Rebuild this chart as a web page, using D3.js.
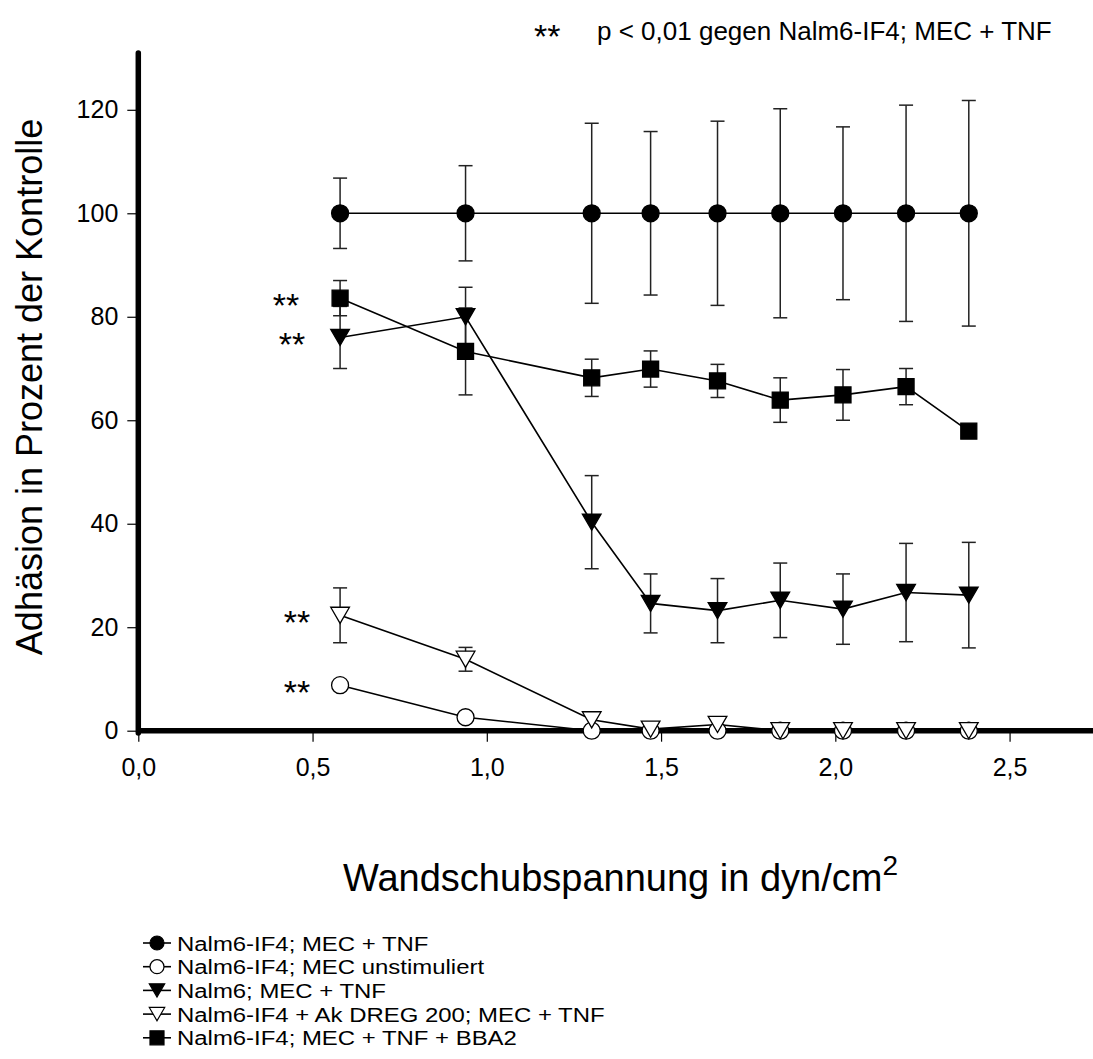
<!DOCTYPE html>
<html>
<head>
<meta charset="utf-8">
<script src="https://cdn.jsdelivr.net/npm/d3@7"></script>
<style>
  body { margin: 0; background: #fff; }
  text { font-family: "Liberation Sans", Arial, sans-serif; fill: #000; }
</style>
</head>
<body>
<script>
// shear stress (dyn/cm2)
var xValues = [0.579, 0.939, 1.301, 1.470, 1.662, 1.842, 2.022, 2.203, 2.383];

var seriesNames = [
  "Nalm6-IF4; MEC + TNF",
  "Nalm6-IF4; MEC unstimuliert",
  "Nalm6; MEC + TNF",
  "Nalm6-IF4 + Ak DREG 200; MEC + TNF",
  "Nalm6-IF4; MEC + TNF + BBA2"
];

var ifTnf      = [100, 100, 100, 100, 100, 100, 100, 100, 100];
var ifTnfErr   = [6.8, 9.2, 17.4, 15.8, 17.8, 20.2, 16.7, 20.9, 21.8];
var ifUnstim   = [8.8, 2.6, 0, 0, 0, 0, 0, 0, 0];
var nalmTnf    = [76.0, 80.0, 40.3, 24.6, 23.2, 25.2, 23.5, 26.7, 26.2];
var nalmTnfErr = [6.0, 5.7, 9.0, 5.7, 6.2, 7.2, 6.8, 9.5, 10.2];
var dreg       = [22.3, 13.8, 2.1, 0.3, 1.2, 0, 0, 0, 0];
var dregErr    = [5.3, 2.3, 0, 0, 0, 0, 0, 0, 0];
var bba2       = [83.6, 73.3, 68.2, 69.9, 67.6, 63.9, 64.9, 66.5, 57.9];
var bba2Err    = [3.4, 8.4, 3.6, 3.5, 3.2, 4.3, 4.9, 3.5, 0];

var yTicks = [0, 20, 40, 60, 80, 100, 120];
var xTicks = [0, 0.5, 1.0, 1.5, 2.0, 2.5];

// first point of each starred series
var stars = [
  {series: 4, dx: -54},
  {series: 2, dx: -48},
  {series: 3, dx: -43},
  {series: 1, dx: -43}
];

var svg = d3.select("body").append("svg")
    .attr("width", 1093)
    .attr("height", 1059);

var xScale = d3.scaleLinear().domain([0, 2.75]).range([138.3, 1096.7]);
var yScale = d3.scaleLinear().domain([0, 120]).range([730.7, 109.8]);

var series = [
  {name: seriesNames[0], vals: ifTnf,    err: ifTnfErr,   shape: "circle",   fill: "#000"},
  {name: seriesNames[1], vals: ifUnstim, err: null,       shape: "circle",   fill: "#fff"},
  {name: seriesNames[2], vals: nalmTnf,  err: nalmTnfErr, shape: "triangle", fill: "#000"},
  {name: seriesNames[3], vals: dreg,     err: dregErr,    shape: "triangle", fill: "#fff"},
  {name: seriesNames[4], vals: bba2,     err: bba2Err,    shape: "square",   fill: "#000"}
];

function markerPath(shape, s) {
  if (shape === "circle") return d3.symbol().type(d3.symbolCircle).size(Math.PI * s * s)();
  if (shape === "square") return "M" + (-s) + "," + (-s) + "h" + 2 * s + "v" + 2 * s + "h" + (-2 * s) + "Z";
  // downward triangle, centred on its bounding box
  var w = s * 1.1, h = s * 0.95;
  return "M" + (-w) + "," + (-h) + "L" + w + "," + (-h) + "L0," + h + "Z";
}
var markerSize = {circle: 8.5, square: 8, triangle: 8.5};

// axes
var yAxis = d3.axisLeft(yScale).tickValues(yTicks).tickSize(11).tickPadding(9);
var gy = svg.append("g").attr("transform", "translate(138.3,0)").call(yAxis);
gy.select(".domain").remove();
gy.selectAll(".tick line").attr("stroke", "#000").attr("stroke-width", 1.2);
gy.selectAll(".tick text").style("font-size", "25px").attr("fill", "#000");

var xAxis = d3.axisBottom(xScale).tickValues(xTicks).tickSize(11).tickPadding(17)
    .tickFormat(function(d) { return d3.format(".1f")(d).replace(".", ","); });
var gx = svg.append("g").attr("transform", "translate(0,730.7)").call(xAxis);
gx.select(".domain").remove();
gx.selectAll(".tick line").attr("stroke", "#000").attr("stroke-width", 1.2);
gx.selectAll(".tick text").style("font-size", "25px").attr("fill", "#000");

var line = d3.line()
    .x(function(d, i) { return xScale(xValues[i]); })
    .y(function(d) { return yScale(d); });

// connecting lines
series.forEach(function(s) {
  svg.append("path")
    .attr("d", line(s.vals))
    .attr("fill", "none")
    .attr("stroke", "#000")
    .attr("stroke-width", 1.6);
});

// error bars
series.forEach(function(s) {
  if (!s.err) return;
  var g = svg.append("g").attr("stroke", "#222").attr("stroke-width", 1.5);
  s.vals.forEach(function(v, i) {
    var e = s.err[i];
    if (!e) return;
    var x = xScale(xValues[i]);
    g.append("line").attr("x1", x).attr("x2", x)
      .attr("y1", yScale(v + e)).attr("y2", yScale(v - e));
    [v + e, v - e].forEach(function(c) {
      g.append("line").attr("x1", x - 7).attr("x2", x + 7)
        .attr("y1", yScale(c)).attr("y2", yScale(c));
    });
  });
});

// thick axis lines
svg.append("line").attr("x1", 138.3).attr("x2", 138.3).attr("y1", 53).attr("y2", 733)
  .attr("stroke", "#000").attr("stroke-width", 5.5).attr("stroke-linecap", "round");
svg.append("line").attr("x1", 136).attr("x2", 1093).attr("y1", 730.7).attr("y2", 730.7)
  .attr("stroke", "#000").attr("stroke-width", 5.5);

// markers
series.forEach(function(s) {
  svg.append("g").selectAll("path")
    .data(s.vals)
    .enter()
    .append("path")
    .attr("transform", function(d, i) { return "translate(" + xScale(xValues[i]) + "," + yScale(d) + ")"; })
    .attr("d", markerPath(s.shape, markerSize[s.shape]))
    .attr("fill", s.fill)
    .attr("stroke", "#000")
    .attr("stroke-width", 1.3);
});

// significance stars
stars.forEach(function(st) {
  var s = series[st.series];
  svg.append("text")
    .attr("x", xScale(xValues[0]) + st.dx)
    .attr("y", yScale(s.vals[0]) + 19)
    .attr("text-anchor", "middle")
    .style("font-size", "34px")
    .text("**");
});

// top note
svg.append("text").attr("x", 534).attr("y", 48).style("font-size", "34px").text("**");
svg.append("text").attr("x", 597).attr("y", 40).style("font-size", "26px")
  .text("p < 0,01 gegen Nalm6-IF4; MEC + TNF");

// axis titles
svg.append("text")
  .attr("transform", "translate(42,387) rotate(-90)")
  .attr("text-anchor", "middle")
  .style("font-size", "36px")
  .text("Adhäsion in Prozent der Kontrolle");

var xt = svg.append("text")
  .attr("x", 343).attr("y", 891)
  .style("font-size", "38px");
xt.append("tspan").text("Wandschubspannung in dyn/cm");
xt.append("tspan").attr("dy", -16).style("font-size", "28px").text("2");

// legend
var legend = svg.append("g");
series.forEach(function(s, i) {
  var y = 943 + i * 23.7;
  legend.append("line").attr("x1", 143).attr("x2", 171).attr("y1", y).attr("y2", y)
    .attr("stroke", "#000").attr("stroke-width", 1.6);
  legend.append("path")
    .attr("transform", "translate(157," + y + ")")
    .attr("d", markerPath(s.shape, 7))
    .attr("fill", s.fill).attr("stroke", "#000").attr("stroke-width", 1.2);
  legend.append("text")
    .attr("transform", "translate(177," + (y + 7.5) + ") scale(1.14,1)")
    .style("font-size", "21px").text(s.name);
});
</script>
</body>
</html>
